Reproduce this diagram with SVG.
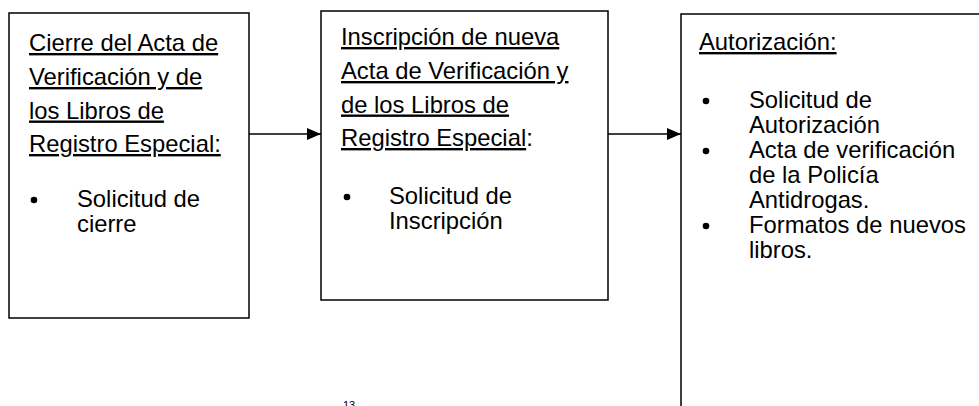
<svg xmlns="http://www.w3.org/2000/svg" width="979" height="406" viewBox="0 0 979 406">
<style>
  .box { fill: #fff; stroke: #000; stroke-width: 1.5; }
  .t { font-family: "Liberation Sans", Arial, sans-serif; font-size: 23.8px; fill: #000; }
  .u { text-decoration: underline; }
  .dot { fill: #000; }
  .conn { stroke: #000; stroke-width: 1.4; fill: none; }
  .pg { font-family: "Liberation Sans", Arial, sans-serif; font-size: 11px; fill: #000; }
</style>
<defs>
  <marker id="ah" markerWidth="14" markerHeight="12" viewBox="0 0 14 12" refX="14" refY="6" orient="auto" markerUnits="userSpaceOnUse">
    <path d="M0,0 L14,6 L0,12 Z" fill="#000"/>
  </marker>
</defs>
<rect width="979" height="406" fill="#fff"/>

<g id="node-cierre">
  <rect class="box" x="9" y="13" width="240" height="305"/>
  <text class="t u" x="29" y="51">Cierre del Acta de</text>
  <text class="t u" x="29" y="85">Verificación y de</text>
  <text class="t u" x="29" y="118.5">los Libros de</text>
  <text class="t u" x="29" y="152">Registro Especial:</text>
  <circle class="dot" cx="34" cy="200" r="3.3"/>
  <text class="t" x="77" y="207">Solicitud de</text>
  <text class="t" x="77" y="232">cierre</text>
</g>

<g id="node-inscripcion">
  <rect class="box" x="321" y="11" width="287" height="289"/>
  <text class="t u" x="341" y="45">Inscripción de nueva</text>
  <text class="t u" x="341" y="79">Acta de Verificación y</text>
  <text class="t u" x="341" y="112.5">de los Libros de</text>
  <text class="t" x="341" y="146"><tspan class="u">Registro Especial</tspan>:</text>
  <circle class="dot" cx="347" cy="197" r="3.3"/>
  <text class="t" x="389" y="204">Solicitud de</text>
  <text class="t" x="389" y="228.5">Inscripción</text>
</g>

<g id="node-autorizacion">
  <rect class="box" x="681" y="14" width="400" height="500"/>
  <text class="t u" x="699" y="50">Autorización:</text>
  <circle class="dot" cx="706" cy="101" r="3.3"/>
  <text class="t" x="749" y="108">Solicitud de</text>
  <text class="t" x="749" y="133">Autorización</text>
  <circle class="dot" cx="706" cy="151" r="3.3"/>
  <text class="t" x="749" y="158">Acta de verificación</text>
  <text class="t" x="749" y="183">de la Policía</text>
  <text class="t" x="749" y="208">Antidrogas.</text>
  <circle class="dot" cx="706" cy="226" r="3.3"/>
  <text class="t" x="749" y="233">Formatos de nuevos</text>
  <text class="t" x="749" y="258">libros.</text>
</g>

<g id="connectors">
  <line class="conn" x1="249" y1="134" x2="321" y2="134" marker-end="url(#ah)"/>
  <line class="conn" x1="608" y1="134" x2="681" y2="134" marker-end="url(#ah)"/>
</g>

<text class="pg" x="343" y="409">13</text>
</svg>
